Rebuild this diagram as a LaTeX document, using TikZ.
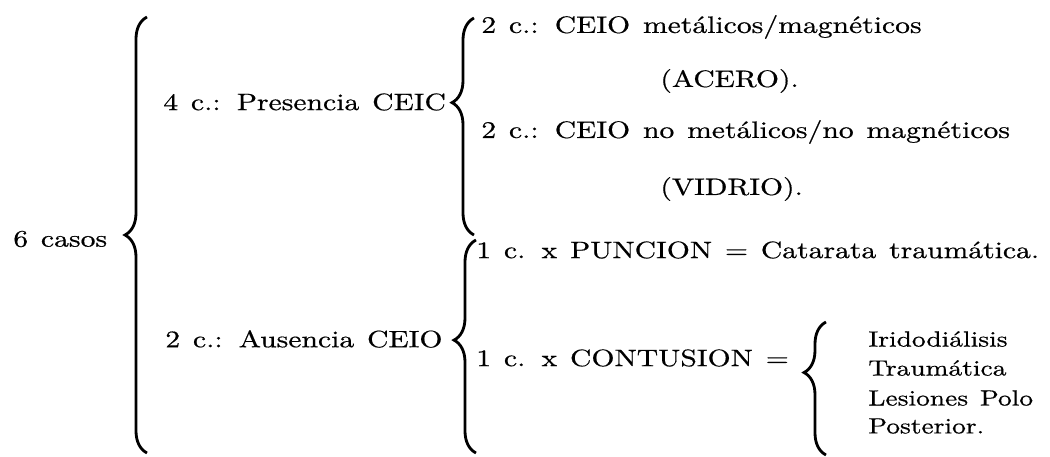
\documentclass[tikz,border=0pt]{standalone}
\usepackage{fontspec}
\setmainfont{lmroman10-regular.otf}[FakeStretch=1.25,FakeBold=0.6,WordSpace=1.3]
\usetikzlibrary{decorations.pathreplacing}
\tikzset{txt/.style={anchor=west,inner sep=0pt,font=\fontsize{13.5}{16}\selectfont},lst/.style={txt,font=\fontsize{12.5}{15}\selectfont},brc/.style={decorate,decoration={brace,amplitude=4.4mm,aspect=#1},line width=1.6pt},brc/.default=0.5}
\begin{document}
\begin{tikzpicture}[x=0.2mm,y=-0.2mm]
\useasboundingbox (0,0) rectangle (1050,457);
\node[txt] (casos) at (13,239) {6 casos};
\node[txt] (pres) at (163,102) {4 c.: Presencia CEIC};
\node[txt] (aus) at (165,339) {2 c.: Ausencia CEIO};
\node[txt] (met) at (481,27) {2 c.: CEIO metálicos/magnéticos};
\node[txt] (acero) at (660,81) {(ACERO).};
\node[txt] (nomet) at (481,132) {2 c.: CEIO no metálicos/no magnéticos};
\node[txt] (vidrio) at (660,189) {(VIDRIO).};
\node[txt] (punc) at (476,250) {1 c. x PUNCION = Catarata traumática.};
\node[txt] (cont) at (476,358) {1 c. x CONTUSION =};
\node[lst] (irido) at (868,339) {Iridodiálisis};
\node[lst] (traum) at (868,368) {Traumática};
\node[lst] (lesion) at (868,398) {Lesiones Polo};
\node[lst] (post) at (868,426) {Posterior.};
% braces
\coordinate (b1t) at (147,17); \coordinate (b1b) at (147,453);
\coordinate (b2t) at (474,18); \coordinate (b2b) at (474,235);
\coordinate (b3t) at (476,240); \coordinate (b3b) at (476,453);
\coordinate (b4t) at (826,322); \coordinate (b4b) at (826,455);
\draw[brc] (b1b)--(b1t);
\draw[brc=0.61] (b2b)--(b2t);
\draw[brc=0.53] (b3b)--(b3t);
\draw[brc=0.62] (b4b)--(b4t);
\end{tikzpicture}
\end{document}
